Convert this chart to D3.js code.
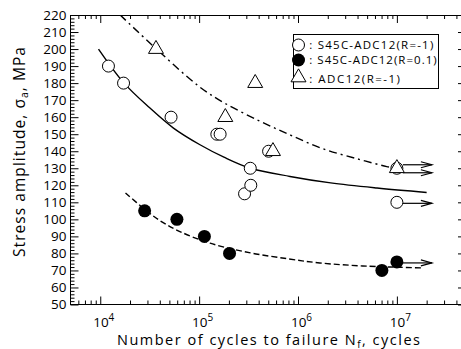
<!DOCTYPE html>
<html><head><meta charset="utf-8">
<script src="https://cdn.jsdelivr.net/npm/d3@7"></script>
<style>body{margin:0;background:#fff} svg{display:block}</style>
</head><body>
<script>
// ---------- data ----------
const xMajor = [1e4, 1e5, 1e6, 1e7];
const xExponents = ["4", "5", "6", "7"];
const yMajor = d3.range(50, 221, 10);

// S45C-ADC12 (R=-1) open circles
const openN = [1.21e4, 1.72e4, 5.2e4, 1.51e5, 1.63e5, 2.88e5, 3.29e5, 3.33e5, 5.04e5, 1e7, 1e7];
const openS = [190, 180, 160, 150, 150, 115, 130, 120, 140, 110, 130];
// S45C-ADC12 (R=0.1) filled circles
const filledN = [2.81e4, 5.96e4, 1.13e5, 2.03e5, 7.05e6, 1e7];
const filledS = [105, 100, 90, 80, 70, 75];
// ADC12 (R=-1) triangles
const triN = [3.66e4, 1.84e5, 3.69e5, 5.58e5, 1e7];
const triS = [200, 160, 180, 140, 130];

// run-outs (unbroken specimens)
const runoutN = [1e7, 1e7, 1e7, 1e7];
const runoutS = [130, 130, 110, 75];

// fitted curves
const solidN = [9.6e3, 1.74e4, 3.16e4, 5.5e4, 1.02e5, 1.78e5, 3.3e5, 8.3e5, 2.14e6, 6.3e6, 2e7];
const solidS = [200, 180, 165.5, 153.6, 143.8, 136.5, 130, 125.2, 121.4, 118.4, 115.8];
const dashN = [1.8e4, 2.8e4, 4.07e4, 6.3e4, 1.29e5, 3.3e5, 8e5, 1.66e6, 5e6, 1.86e7];
const dashS = [115.5, 106, 99, 93, 86, 80.3, 76.8, 74.4, 72.5, 71.5];
const dashDotN = [1.59e4, 3.7e4, 1e5, 1.78e5, 4e5, 8.3e5, 1.78e6, 4e6, 7.9e6, 1e7];
const dashDotS = [220, 200, 178, 168.5, 158, 149.6, 141.5, 135.5, 131, 130];

const legendLabels = [": S45C-ADC12(R=-1)", ": S45C-ADC12(R=0.1)", ": ADC12(R=-1)"];

// ---------- layout ----------
const W = 461, H = 349;
const L = 70.5, R = 466, T = 15, B = 304.5;
const svg = d3.select("body").append("svg").attr("width", W).attr("height", H);
const x = d3.scaleLog().domain([5e3, 5e7]).range([L, R]);
const y = d3.scaleLinear().domain([50, 220]).range([B, T]);
const font = "'Open Sans', sans-serif";

// minor ticks
const xMinor = [];
for (let e = 3; e <= 7; e++) for (let k = 2; k <= 9; k++) {
  const v = k * Math.pow(10, e);
  if (v > 5e3 && v < 5e7) xMinor.push(v);
}
const yMinor = d3.range(50, 221, 2).filter(v => v % 10 !== 0);

function styleAxis(g) {
  g.selectAll("path.domain").remove();
  g.selectAll("line").attr("stroke", "#000").attr("stroke-width", 1);
}
// bottom
svg.append("g").attr("transform", `translate(0,${B})`)
  .call(d3.axisBottom(x).tickValues(xMinor).tickSize(-4).tickFormat(() => "")).call(styleAxis);
const xb = svg.append("g").attr("transform", `translate(0,${B})`)
  .call(d3.axisBottom(x).tickValues(xMajor).tickSize(-8).tickPadding(10).tickFormat(() => "")).call(styleAxis);
xb.selectAll("text").each(function(d, i) {
  const t = d3.select(this).attr("font-family", font).attr("font-size", 13.5).attr("fill", "#000")
    .attr("text-anchor", "middle").attr("dx", 3).attr("y", 22).attr("dy", 0);
  t.append("tspan").text("10");
  t.append("tspan").attr("font-size", 10).attr("dy", -6).text(xExponents[i]);
});
// top
svg.append("g").attr("transform", `translate(0,${T})`)
  .call(d3.axisTop(x).tickValues(xMinor).tickSize(-4).tickFormat(() => "")).call(styleAxis);
svg.append("g").attr("transform", `translate(0,${T})`)
  .call(d3.axisTop(x).tickValues(xMajor).tickSize(-8).tickFormat(() => "")).call(styleAxis);
// left
svg.append("g").attr("transform", `translate(${L},0)`)
  .call(d3.axisLeft(y).tickValues(yMinor).tickSize(-4).tickFormat(() => "")).call(styleAxis);
const yl = svg.append("g").attr("transform", `translate(${L},0)`)
  .call(d3.axisLeft(y).tickValues(yMajor).tickSize(-8).tickPadding(4).tickFormat(d3.format("d"))).call(styleAxis);
yl.selectAll("text").attr("font-family", font).attr("font-size", 13.5).attr("fill", "#000");
// right
svg.append("g").attr("transform", `translate(${R},0)`)
  .call(d3.axisRight(y).tickValues(yMinor).tickSize(-4).tickFormat(() => "")).call(styleAxis);
svg.append("g").attr("transform", `translate(${R},0)`)
  .call(d3.axisRight(y).tickValues(yMajor).tickSize(-8).tickFormat(() => "")).call(styleAxis);
// frame
svg.append("rect").attr("x", L).attr("y", T + 0.5).attr("width", R - L).attr("height", B - T - 0.5)
  .attr("fill", "none").attr("stroke", "#000").attr("stroke-width", 1);

// axis titles
const xt = svg.append("text").attr("x", 268.5).attr("y", 344.5).attr("text-anchor", "middle")
  .attr("font-family", font).attr("font-size", 14.5).attr("fill", "#000")
  .attr("textLength", 303).attr("lengthAdjust", "spacing");
xt.append("tspan").text("Number of cycles to failure N");
xt.append("tspan").attr("font-size", 10).attr("dy", 3).text("f");
xt.append("tspan").attr("dy", -3).text(", cycles");

const yt = svg.append("text").attr("transform", "translate(25,152) rotate(-90)").attr("text-anchor", "middle")
  .attr("font-family", font).attr("font-size", 15.5).attr("fill", "#000")
  .attr("textLength", 210).attr("lengthAdjust", "spacing");
yt.append("tspan").text("Stress amplitude, σ");
yt.append("tspan").attr("font-size", 10.5).attr("dy", 3).text("a");
yt.append("tspan").attr("dy", -3).text(", MPa");

// curves
const clip = svg.append("clipPath").attr("id", "clip").append("rect")
  .attr("x", L).attr("y", T).attr("width", R - L).attr("height", B - T);
const line = d3.line().x(d => x(d[0])).y(d => y(d[1])).curve(d3.curveCatmullRom.alpha(0.5));
const curves = svg.append("g").attr("clip-path", "url(#clip)").attr("fill", "none").attr("stroke", "#000");
curves.append("path").attr("d", line(d3.zip(solidN, solidS))).attr("stroke-width", 1.4);
curves.append("path").attr("d", line(d3.zip(dashN, dashS))).attr("stroke-width", 1.4).attr("stroke-dasharray", "6,3");
curves.append("path").attr("d", line(d3.zip(dashDotN, dashDotS))).attr("stroke-width", 1.4).attr("stroke-dasharray", "8,4,2,4");

// run-out arrows
const arrowOffsets = [-3.5, 4.5, 1, 1];
const arrows = svg.append("g").attr("stroke", "#000").attr("stroke-width", 1.2).attr("fill", "none");
runoutN.forEach((n, i) => {
  const x0 = x(n) + 6, x1 = x(n) + 35, yy = y(runoutS[i]) + arrowOffsets[i];
  arrows.append("line").attr("x1", x0).attr("x2", x1).attr("y1", yy).attr("y2", yy);
  arrows.append("path").attr("d", `M${x1 - 11},${yy - 3}L${x1},${yy}L${x1 - 11},${yy + 3}`);
});

// markers
const triSym = d3.symbol().type(d3.symbolTriangle).size(97);
svg.append("g").selectAll("circle").data(d3.zip(openN, openS)).join("circle")
  .attr("cx", d => x(d[0])).attr("cy", d => y(d[1])).attr("r", 6)
  .attr("fill", "#fff").attr("stroke", "#000").attr("stroke-width", 1);
svg.append("g").selectAll("path").data(d3.zip(triN, triS)).join("path")
  .attr("d", triSym).attr("transform", d => `translate(${x(d[0])},${y(d[1])})`)
  .attr("fill", "#fff").attr("stroke", "#000").attr("stroke-width", 1);
svg.append("g").selectAll("circle").data(d3.zip(filledN, filledS)).join("circle")
  .attr("cx", d => x(d[0])).attr("cy", d => y(d[1])).attr("r", 6.5).attr("fill", "#000");

// legend
const lg = svg.append("g");
lg.append("rect").attr("x", 293.5).attr("y", 34.5).attr("width", 145).attr("height", 54)
  .attr("fill", "#fff").attr("stroke", "#000").attr("stroke-width", 1);
lg.append("circle").attr("cx", 298.5).attr("cy", 45).attr("r", 6).attr("fill", "#fff").attr("stroke", "#000");
lg.append("circle").attr("cx", 298.5).attr("cy", 60).attr("r", 6.5).attr("fill", "#000");
lg.append("path").attr("d", triSym).attr("transform", "translate(298.5,77.5)")
  .attr("fill", "#fff").attr("stroke", "#000");
const lgY = [49, 64, 83], lgLen = [124, 127.4, 90.7];
legendLabels.forEach((s, i) => {
  lg.append("text").attr("x", 309.3).attr("y", lgY[i]).attr("font-family", font)
    .attr("font-size", 11.5).attr("fill", "#000").attr("textLength", lgLen[i])
    .attr("lengthAdjust", "spacing").text(s);
});
</script>
</body></html>
